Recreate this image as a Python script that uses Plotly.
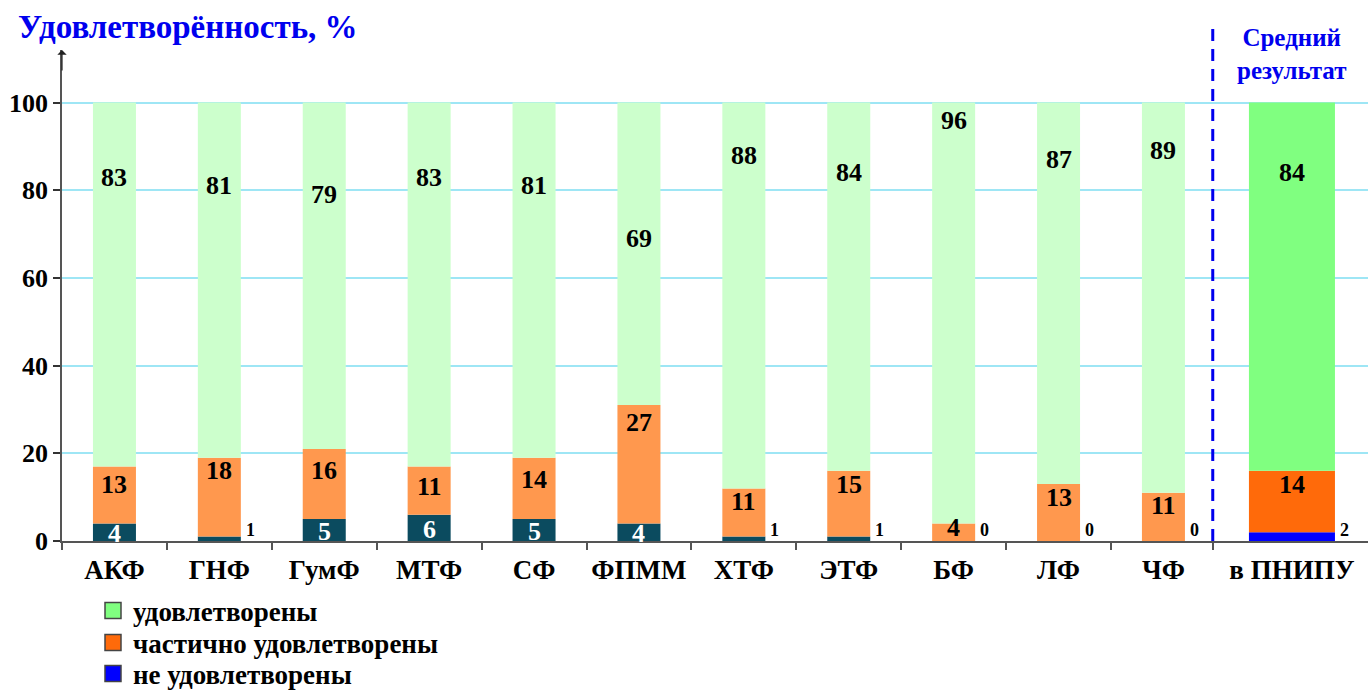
import plotly.graph_objects as go

# Survey of student satisfaction by faculty, %
categories = ["АКФ", "ГНФ", "ГумФ", "МТФ", "СФ", "ФПММ", "ХТФ", "ЭТФ", "БФ", "ЛФ", "ЧФ", "в ПНИПУ"]
not_satisfied = [4, 1, 5, 6, 5, 4, 1, 1, 0, 0, 0, 2]
partly_satisfied = [13, 18, 16, 11, 14, 27, 11, 15, 4, 13, 11, 14]
satisfied = [83, 81, 79, 83, 81, 69, 88, 84, 96, 87, 89, 84]
y_ticks = [0, 20, 40, 60, 80, 100]
series_names = ["удовлетворены", "частично удовлетворены", "не удовлетворены"]

FONT = "Liberation Serif, DejaVu Serif, serif"
n_fac = len(categories) - 1
# faculties at integer positions, the overall result sits past the divider
xpos = list(range(n_fac)) + [n_fac + 0.225]
divider = n_fac - 0.53
widths = [0.41] * n_fac + [0.82]

fac_colors = {"sat": "#CCFFCC", "part": "#FF984E", "not": "#0B4B5F"}
tot_colors = {"sat": "#80FF80", "part": "#FF6A0A", "not": "#0000FF"}


def colors(key):
    return [fac_colors[key]] * n_fac + [tot_colors[key]]


def bold(s):
    return "<b>" + s + "</b>"


fig = go.Figure()
base_part = not_satisfied
base_sat = [a + b for a, b in zip(not_satisfied, partly_satisfied)]
for vals, base, key in [(not_satisfied, [0] * len(xpos), "not"),
                        (partly_satisfied, base_part, "part"),
                        (satisfied, base_sat, "sat")]:
    fig.add_trace(go.Bar(x=xpos, y=vals, base=base, width=widths,
                         marker=dict(color=colors(key), line=dict(width=0)),
                         showlegend=False, hoverinfo="skip"))

# legend entries, one legend per row so the rows sit at fixed heights
legend_ids = ["legend", "legend2", "legend3"]
row_y = [611, 643, 674]
for name, key, lid in zip(series_names, ["sat", "part", "not"], legend_ids):
    fig.add_trace(go.Scatter(x=[None], y=[None], mode="markers", name=bold(name), legend=lid,
                             marker=dict(symbol="square", size=20, color=tot_colors[key],
                                         line=dict(color="#444444", width=1.5))))

# boundary ticks on the category axis
bounds = [i - 0.5 for i in range(n_fac)] + [divider]
fig.add_trace(go.Scatter(x=bounds, y=[None] * len(bounds), xaxis="x2", showlegend=False,
                         hoverinfo="skip", mode="markers"))

ann = []
lab_font = dict(family=FONT, size=26, color="black")
for i, x in enumerate(xpos):
    half = widths[i] / 2
    # satisfied
    ann.append(dict(x=x, y=satisfied[i], text=bold(str(satisfied[i])), showarrow=False,
                    font=lab_font, yanchor="middle"))
    # partly satisfied
    top = base_sat[i]
    yp = max(min(partly_satisfied[i], top - 3), (top + not_satisfied[i]) / 2 + 1)
    ann.append(dict(x=x, y=yp, text=bold(str(partly_satisfied[i])), showarrow=False,
                    font=lab_font, yanchor="middle"))
    # not satisfied
    v = not_satisfied[i]
    if v >= 3:
        ann.append(dict(x=x, y=v / 2 - 0.3, text=bold(str(v)), showarrow=False,
                        font=dict(family=FONT, size=26, color="white"),
                        yanchor="middle"))
    else:
        ann.append(dict(x=x + half, y=0, text=bold(str(v)), showarrow=False, xanchor="left",
                        yanchor="bottom", xshift=3, yshift=-1,
                        font=dict(family=FONT, size=18, color="black")))

# axis arrow
ann.append(dict(x=-0.5, y=112, xref="x", yref="y", ax=0, ay=22, axref="pixel", ayref="pixel",
                showarrow=True, arrowhead=1, arrowsize=1.3, arrowwidth=1.2, arrowcolor="#222222",
                text=""))
# titles
ann.append(dict(xref="paper", yref="paper", x=(16 - 62) / 1306, y=(541 - 27) / 491,
                text=bold("Удовлетворённость, %"), showarrow=False,
                xanchor="left", yanchor="middle",
                font=dict(family=FONT, size=33, color="#0000EE")))
ann.append(dict(x=xpos[-1], xref="x", yref="paper", y=(541 - 54) / 491,
                text=bold("Средний<br>результат"), showarrow=False, xanchor="center",
                yanchor="middle", align="center",
                font=dict(family=FONT, size=25, color="#0000EE")))

fig.add_shape(type="line", x0=divider, x1=divider, xref="x", yref="paper",
              y0=0, y1=(541 - 28) / 491,
              line=dict(color="#0000EE", width=3, dash="12px,8px"))

legend_common = dict(xanchor="left", yanchor="middle",
                     font=dict(family=FONT, size=27, color="black"),
                     bgcolor="rgba(0,0,0,0)", itemwidth=30)
legends = {}
for lid, ry in zip(legend_ids, row_y):
    legends[lid] = dict(x=(93 - 62) / 1306, y=(541 - ry) / 491, **legend_common)

fig.update_layout(
    width=1368, height=694,
    margin=dict(l=62, r=0, t=50, b=153, autoexpand=False),
    plot_bgcolor="white", paper_bgcolor="white",
    barmode="overlay",
    annotations=ann,
    xaxis=dict(range=[-0.5, 11.95], tickvals=xpos, ticktext=[bold(c) for c in categories],
               ticks="", showgrid=False, zeroline=False, showline=True, linecolor="#555555",
               linewidth=1.5, ticklabelstandoff=4,
               tickfont=dict(family=FONT, size=27, color="black")),
    xaxis2=dict(range=[-0.5, 11.95], overlaying="x", anchor="y", side="bottom",
                tickvals=bounds, ticks="outside", ticklen=8, tickwidth=1.5,
                tickcolor="#555555", showticklabels=False, showgrid=False, zeroline=False,
                showline=False),
    yaxis=dict(range=[0, 112], tickvals=y_ticks, ticktext=[bold(str(t)) for t in y_ticks],
               ticks="outside", ticklen=7, tickwidth=1.5,
               tickcolor="#333333", showline=True, linecolor="#555555", linewidth=1.5,
               gridcolor="#9EE6F5", gridwidth=1.5, zeroline=False,
               tickfont=dict(family=FONT, size=26, color="black")),
    showlegend=True,
    **legends,
)

fig.write_html("out.html")
